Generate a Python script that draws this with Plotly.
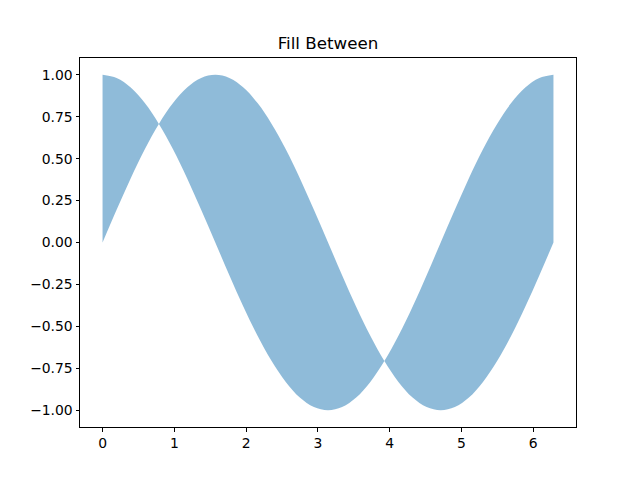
import plotly.graph_objects as go

x_vals = [0, 0.196, 0.393, 0.589, 0.785, 0.982, 1.178, 1.374, 1.571, 1.767, 1.963, 2.160,
          2.356, 2.553, 2.749, 2.945, 3.142, 3.338, 3.534, 3.731, 3.927, 4.123, 4.320,
          4.516, 4.712, 4.909, 5.105, 5.301, 5.498, 5.694, 5.890, 6.087, 6.283]
sin_vals = [0, 0.195, 0.383, 0.556, 0.707, 0.831, 0.924, 0.981, 1.0, 0.981, 0.924, 0.831,
            0.707, 0.556, 0.383, 0.195, 0, -0.195, -0.383, -0.556, -0.707, -0.831, -0.924,
            -0.981, -1.0, -0.981, -0.924, -0.831, -0.707, -0.556, -0.383, -0.195, 0]
cos_vals = [1.0, 0.981, 0.924, 0.831, 0.707, 0.556, 0.383, 0.195, 0, -0.195, -0.383, -0.556,
            -0.707, -0.831, -0.924, -0.981, -1.0, -0.981, -0.924, -0.831, -0.707, -0.556,
            -0.383, -0.195, 0, 0.195, 0.383, 0.556, 0.707, 0.831, 0.924, 0.981, 1.0]
x_ticks = [0, 1, 2, 3, 4, 5, 6]
y_ticks = [-1.0, -0.75, -0.5, -0.25, 0.0, 0.25, 0.5, 0.75, 1.0]

fill_color = "rgba(31,119,180,0.5)"

fig = go.Figure()
fig.add_trace(go.Scatter(x=x_vals, y=sin_vals, mode="lines",
                         line=dict(width=0, shape="spline", color=fill_color),
                         showlegend=False, hoverinfo="skip"))
fig.add_trace(go.Scatter(x=x_vals, y=cos_vals, mode="lines", fill="tonexty",
                         fillcolor=fill_color,
                         line=dict(width=0, shape="spline", color=fill_color),
                         showlegend=False, hoverinfo="skip"))

axis_common = dict(showgrid=False, zeroline=False, showline=True, linecolor="black",
                   linewidth=1, mirror=True, ticks="outside", ticklen=3.5,
                   tickwidth=0.8, tickcolor="black",
                   tickfont=dict(family="DejaVu Sans", size=13.9, color="black"))

span_x = 6.283
fig.update_xaxes(range=[-0.05 * span_x, span_x * 1.05], tickvals=x_ticks,
                 ticktext=[str(t) for t in x_ticks], **axis_common)
fig.update_yaxes(range=[-1.1, 1.1], tickvals=y_ticks, tickformat=".2f", **axis_common)

fig.update_layout(
    width=640, height=480,
    margin=dict(l=80, r=64, t=58, b=53),
    paper_bgcolor="white", plot_bgcolor="white",
    title=dict(text="Fill Between", x=0.5, xanchor="center", xref="paper",
               y=1 - 43 / 480, yanchor="middle", yref="container",
               font=dict(family="DejaVu Sans", size=16.7, color="black")),
)

fig.write_html("out.html")
